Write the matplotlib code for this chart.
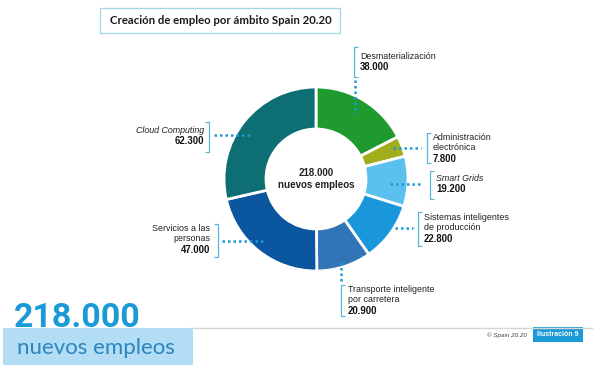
import matplotlib.pyplot as plt
from matplotlib.patches import Rectangle

# data
categories = ['Desmaterialización', 'Administración\nelectrónica', 'Smart Grids',
              'Sistemas inteligentes\nde producción', 'Transporte inteligente\npor carretera',
              'Servicios a las\npersonas', 'Cloud Computing']
values = [38000, 7800, 19200, 22800, 20900, 47000, 62300]
value_labels = ['38.000', '7.800', '19.200', '22.800', '20.900', '47.000', '62.300']
colors = ['#1f9a2e', '#a2ad1c', '#5cc0ee', '#1a97da', '#3174b7', '#0a57a0', '#0d6f74']
total_label = '218.000'

H = 365
BLUE = '#1a9ad6'
LINE = '#5ab4dc'
NARROW = ['Liberation Sans', 'DejaVu Sans']


def Y(y):
    return H - y


fig = plt.figure(figsize=(6, 3.65), dpi=100)
ax = fig.add_axes([0, 0, 1, 1])

cx, cy, r = 316, 179, 92
ax.pie(values, startangle=90, counterclock=False, colors=colors, radius=r,
       center=(cx, Y(cy)), wedgeprops=dict(width=42, edgecolor='white', linewidth=2))
ax.text(cx, Y(cy), total_label + '\nnuevos empleos', ha='center', va='center',
        fontsize=7, fontweight='bold', family=NARROW, color='#222222', linespacing=1.15)

# label layout: (x, y_top, align, bracket_x, bracket_y0, bracket_y1, leader)
layout = [
    (360, 52, 'left', 354, 47, 77, ((355, 80), (355, 114))),
    (433, 133, 'left', 427, 133, 163, ((393, 148), (421, 148))),
    (436, 174, 'left', 430, 171, 199, ((390, 184), (422, 184))),
    (424, 213, 'left', 418, 212, 246, ((395, 228), (413, 228))),
    (348, 285, 'left', 341, 285, 316, ((341, 262), (341, 282))),
    (210, 224, 'right', 218, 224, 257, ((222, 241), (266, 241))),
    (204, 126, 'right', 209, 122, 152, ((214, 135), (252, 135))),
]
italic = {'Smart Grids', 'Cloud Computing'}

for cat, val, (tx, ty, ha, bx, by0, by1, lead) in zip(categories, value_labels, layout):
    nlines = cat.count('\n') + 1
    style = 'italic' if cat in italic else 'normal'
    ax.text(tx, Y(ty), cat, ha=ha, va='top', fontsize=6.4, family=NARROW,
            style=style, color='#222222', linespacing=1.15)
    ax.text(tx, Y(ty + 10.5 * nlines), val, ha=ha, va='top', fontsize=6.9,
            fontweight='bold', family=NARROW, color='#111111')
    tick = 4 if ha == 'left' else -4
    ax.plot([bx + tick, bx, bx, bx + tick], [Y(by0), Y(by0), Y(by1), Y(by1)],
            color=LINE, lw=0.9, solid_capstyle='butt')
    (x0, y0), (x1, y1) = lead
    ax.plot([x0, x1], [Y(y0), Y(y1)], color=BLUE, lw=1.8, linestyle=(0, (1, 1.2)))

# title box
ax.add_patch(Rectangle((100, Y(33)), 240, 25, fill=False, edgecolor='#a9d9e6', lw=1))
ax.text(110, Y(20.5), 'Creación de empleo por ámbito Spain 20.20', ha='left', va='center',
        fontsize=8.2, fontweight='bold', family=['Lato', 'DejaVu Sans'], color='#1a1a1a')

# footer
ax.plot([190, 592], [Y(328), Y(328)], color='#d5d5d5', lw=1)
ax.text(14, Y(327), total_label, ha='left', va='baseline', fontsize=24.5,
        fontweight='bold', family=['Roboto', 'DejaVu Sans'], color=BLUE)
ax.add_patch(Rectangle((3, 0), 190, Y(328), color='#b3dcf5', lw=0, zorder=2))
ax.text(17, Y(348), 'nuevos empleos', ha='left', va='center', fontsize=16,
        fontweight='normal', family=['Lato', 'DejaVu Sans'], color='#2b86bd', zorder=4)
ax.text(527, Y(335), '© Spain 20.20', ha='right', va='center', fontsize=4.5,
        style='italic', family=NARROW, color='#444444')
ax.add_patch(Rectangle((533, Y(342)), 50, 15, color=BLUE, lw=0))
ax.text(558, Y(334.5), 'Ilustración 9', ha='center', va='center', fontsize=5,
        fontweight='bold', family=NARROW, color='white')

ax.set_xlim(0, 600)
ax.set_ylim(0, H)
ax.set_aspect('equal')
ax.axis('off')

fig.savefig('out.png', dpi=100)
